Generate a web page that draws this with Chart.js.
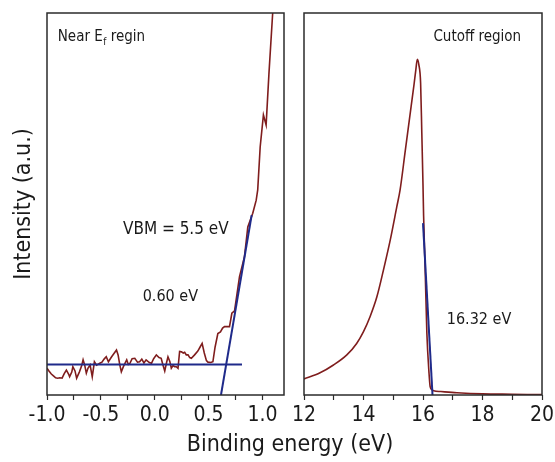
<!DOCTYPE html>
<html>
<head>
<meta charset="utf-8">
<script src="https://cdn.jsdelivr.net/npm/chart.js@4.4.1/dist/chart.umd.min.js"></script>
<style>
  html, body { margin: 0; padding: 0; background: #ffffff; }
  #wrap { position: relative; width: 555px; height: 462px; overflow: hidden; }
  canvas { position: absolute; left: 0; top: 0; }
  #xtitle { position: absolute; left: 0; width: 580px; top: 430px; text-align: center;
    font-family: 'Liberation Sans Narrow', 'DejaVu Sans Condensed', sans-serif; font-size: 23px; color: #1a1a1a; }
</style>
</head>
<body>
<div id="wrap">
  <canvas id="left" width="555" height="462"></canvas>
  <canvas id="right" width="555" height="462"></canvas>
  <div id="xtitle">Binding energy (eV)</div>
</div>
<script>
// ---- data ----
const nearEfEnergy = [
  -1.00,-0.98,-0.96,-0.94,-0.92,-0.90,-0.88,-0.86,-0.84,-0.82,-0.80,-0.79,-0.77,-0.76,-0.74,-0.725,
  -0.70,-0.68,-0.665,-0.65,-0.635,-0.62,-0.60,-0.58,-0.56,-0.54,-0.51,-0.49,-0.47,-0.45,-0.43,-0.40,
  -0.375,-0.355,-0.34,-0.325,-0.31,-0.29,-0.26,-0.245,-0.23,-0.21,-0.185,-0.16,-0.14,-0.12,-0.10,-0.08,
  -0.05,-0.03,-0.01,0.015,0.04,0.06,0.075,0.093,0.11,0.123,0.14,0.154,0.17,0.185,0.20,0.216,0.231,
  0.247,0.265,0.278,0.293,0.309,0.325,0.34,0.37,0.40,0.42,0.44,0.46,0.48,0.494,0.52,0.54,
  0.56,0.586,0.61,0.63,0.648,0.694,0.716,0.741,0.787,0.833,0.864,0.91,0.942,0.956,0.979,
  1.009,1.034,1.06,1.095,1.12
];
const nearEfIntensity = [
  7.0,6.2,5.5,5.0,4.5,4.4,4.5,4.4,5.6,6.5,5.5,4.8,6.0,7.4,6.3,4.4,
  6.0,7.5,9.2,7.8,5.7,7.0,7.9,4.8,8.7,7.8,8.3,8.6,9.4,10.0,8.7,10.0,
  11.0,11.8,10.5,8.0,6.1,7.5,9.2,8.0,8.3,9.5,9.6,8.6,8.7,9.4,8.4,9.2,
  8.5,8.3,9.5,10.5,9.8,9.6,8.0,6.3,8.5,10.0,8.8,7.0,7.7,7.4,7.4,7.0,11.4,
  11.3,11.0,11.2,10.5,10.5,9.8,9.6,10.5,11.5,12.5,13.5,11.0,9.0,8.6,8.5,8.7,
  12.5,16.1,16.5,17.5,17.9,17.9,21.4,22.0,31.0,36.2,44.0,47.6,51.0,53.7,65.0,
  73.3,70.7,84.0,100.0,110.0
];
const vbmBaseX = [-1.0, 0.81];
const vbmBaseY = [8.0, 8.0];
const vbmEdgeX = [0.615, 0.90];
const vbmEdgeY = [0.0, 47.1];

const cutoffEnergy = [
  12.0,12.54,12.99,13.44,13.77,14.0,14.22,14.45,14.67,14.9,15.12,15.23,15.4,15.6,15.7,15.76,15.81,
  15.86,15.92,15.96,16.0,16.02,16.07,16.13,16.2,16.24,16.3,16.36,16.6,17.14,18.0,19.0,20.0
];
const cutoffIntensity = [
  4.2,5.8,7.85,10.5,13.5,16.6,20.5,25.7,32.7,40.6,49.3,53.7,63.7,75.5,81.4,85.2,87.9,
  86.5,81.6,68.6,55.0,47.0,33.6,16.2,6.0,2.2,1.4,1.1,0.9,0.6,0.3,0.2,0.1
];
const cutoffFitX = [16.0, 16.32];
const cutoffFitY = [45.0, 0.0];

const leftTickLabels = ['-1.0', '-0.5', '0.0', '0.5', '1.0'];
const rightTickLabels = ['12', '14', '16', '18', '20'];

// ---- styling ----
const FONT = "'Liberation Sans Narrow', 'DejaVu Sans Condensed', sans-serif";
const RED = '#7f1d1d';
const BLUE = '#1f2a8a';
const INK = '#1a1a1a';
Chart.defaults.font.family = FONT;
Chart.defaults.color = INK;

const pts = (xs, ys) => xs.map((x, i) => ({ x: x, y: ys[i] }));

const frame = {
  id: 'frame',
  afterDraw(chart) {
    const a = chart.chartArea, ctx = chart.ctx;
    ctx.save();
    ctx.strokeStyle = '#2b2b2b';
    ctx.lineWidth = 1.5;
    ctx.strokeRect(a.left, a.top, a.right - a.left, a.bottom - a.top);
    ctx.restore();
  }
};

const notes = {
  id: 'notes',
  afterDraw(chart, args, opts) {
    const ctx = chart.ctx, xs = chart.scales.x, ys = chart.scales.y;
    ctx.save();
    ctx.fillStyle = INK;
    ctx.textBaseline = 'middle';
    ctx.textAlign = 'left';
    (opts.items || []).forEach(it => {
      let px = xs.getPixelForValue(it.x);
      const py = ys.getPixelForValue(it.y);
      ctx.font = it.size + 'px ' + FONT;
      ctx.fillText(it.text, px, py);
      if (it.sub) {
        px += ctx.measureText(it.text).width;
        ctx.font = Math.round(it.size * 0.65) + 'px ' + FONT;
        ctx.fillText(it.sub, px + 0.5, py + it.size * 0.3);
        px += ctx.measureText(it.sub).width + 0.5;
        ctx.font = it.size + 'px ' + FONT;
        ctx.fillText(it.after, px, py);
      }
    });
    ctx.restore();
  }
};

function xScale(min, max, step, labels) {
  return {
    type: 'linear', min: min, max: max,
    afterFit(s) { s.height = 67; s.paddingLeft = 0; s.paddingRight = 0; },
    grid: { display: true, drawOnChartArea: false, drawTicks: true, tickLength: 5, tickWidth: 1.2, tickColor: '#2b2b2b' },
    border: { display: false },
    ticks: {
      stepSize: step, autoSkip: false, maxRotation: 0, padding: 3, includeBounds: false,
      font: { size: 21 }, color: INK,
      callback(v) {
        const t = step < 1 ? Number(v).toFixed(1) : String(Math.round(v));
        return labels.includes(t) && Math.abs(v / (step * 2) - Math.round(v / (step * 2))) < 1e-6 ? t : '';
      }
    }
  };
}

new Chart(document.getElementById('left'), {
  type: 'line',
  data: {
    datasets: [
      { data: pts(vbmBaseX, vbmBaseY), borderColor: BLUE, borderWidth: 2, pointRadius: 0, tension: 0 },
      { data: pts(vbmEdgeX, vbmEdgeY), borderColor: BLUE, borderWidth: 2, pointRadius: 0, tension: 0 },
      { data: pts(nearEfEnergy, nearEfIntensity), borderColor: RED, borderWidth: 1.6, pointRadius: 0, tension: 0 }
    ]
  },
  options: {
    responsive: false, animation: false, devicePixelRatio: 1,
    layout: { padding: { left: 0, top: 13, right: 271, bottom: 0 } },
    plugins: {
      legend: { display: false }, tooltip: { enabled: false },
      notes: { items: [
        { x: -0.90, y: 93.6, size: 15, text: 'Near E', sub: 'f', after: ' regin' },
        { x: -0.295, y: 43.2, size: 17, text: 'VBM = 5.5 eV' },
        { x: -0.112, y: 25.7, size: 16, text: '0.60 eV' }
      ] }
    },
    scales: {
      x: xScale(-1.0, 1.2, 0.25, leftTickLabels),
      y: {
        type: 'linear', min: 0, max: 100,
        afterFit(s) { s.width = 47; },
        grid: { display: false }, border: { display: false },
        ticks: { display: false },
        title: { display: true, text: 'Intensity (a.u.)', font: { size: 23 }, color: INK, padding: { top: 10, bottom: 0 } }
      }
    }
  },
  plugins: [frame, notes]
});

new Chart(document.getElementById('right'), {
  type: 'line',
  data: {
    datasets: [
      { data: pts(cutoffFitX, cutoffFitY), borderColor: BLUE, borderWidth: 2, pointRadius: 0, tension: 0 },
      { data: pts(cutoffEnergy, cutoffIntensity), borderColor: RED, borderWidth: 1.6, pointRadius: 0, cubicInterpolationMode: 'monotone' }
    ]
  },
  options: {
    responsive: false, animation: false, devicePixelRatio: 1,
    layout: { padding: { left: 304, top: 13, right: 13, bottom: 0 } },
    plugins: {
      legend: { display: false }, tooltip: { enabled: false },
      notes: { items: [
        { x: 16.35, y: 93.6, size: 15, text: 'Cutoff region' },
        { x: 16.8, y: 19.8, size: 16, text: '16.32 eV' }
      ] }
    },
    scales: {
      x: xScale(12, 20, 1, rightTickLabels),
      y: {
        type: 'linear', min: 0, max: 100, display: false
      }
    }
  },
  plugins: [frame, notes]
});
</script>
</body>
</html>
